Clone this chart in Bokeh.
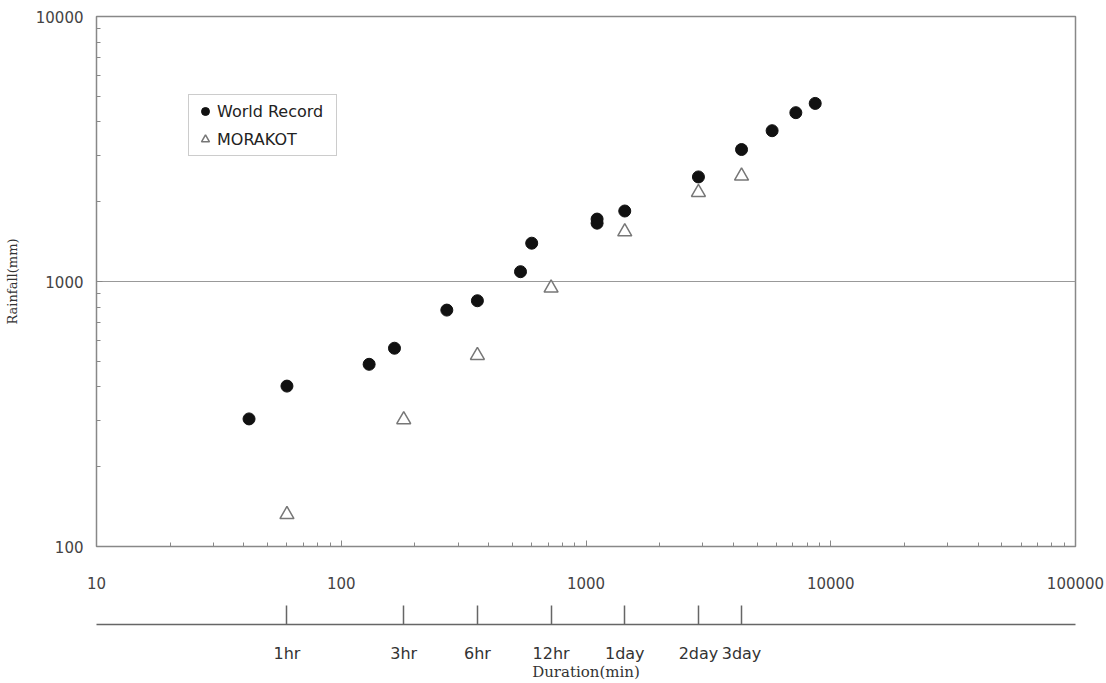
from bokeh.plotting import figure
from bokeh.models import LogAxis, FixedTicker, Legend, LegendItem, ColumnDataSource
from bokeh.embed import file_html
from bokeh.resources import INLINE

# ---- data ----
wr_duration = [42, 60, 130, 165, 270, 360, 540, 600, 1110, 1110, 1440, 2880, 4320, 5760, 7200, 8640]
wr_rainfall = [303, 403, 487, 560, 780, 846, 1089, 1395, 1660, 1720, 1845, 2481, 3148, 3707, 4336, 4699]

morakot_duration = [60, 180, 360, 720, 1440, 2880, 4320]
morakot_rainfall = [132, 301, 526, 945, 1540, 2170, 2500]

x_major = [10, 100, 1000, 10000, 100000]
y_major = [100, 1000, 10000]
x_minor = [m * d for d in [10, 100, 1000, 10000] for m in range(2, 10)]
y_minor = [m * d for d in [100, 1000] for m in range(2, 10)]

dur_ticks = [60, 180, 360, 720, 1440, 2880, 4320]
dur_labels = ["1hr", "3hr", "6hr", "12hr", "1day", "2day", "3day"]

GRAY = "#888888"
TXT = "#444444"

p = figure(width=1106, height=683, x_axis_type="log", y_axis_type="log",
           x_range=(10, 100000), y_range=(100, 10000),
           output_backend="svg", toolbar_location=None,
           min_border_left=96, min_border_right=31, min_border_top=16, min_border_bottom=137,
           background_fill_color="white", border_fill_color="white")

p.outline_line_color = GRAY
p.outline_line_width = 1.5
p.xgrid.visible = False
p.ygrid.grid_line_color = "#999999"
p.ygrid.grid_line_width = 1

# main x axis
xa = p.xaxis[0]
xa.ticker = FixedTicker(ticks=x_major, minor_ticks=x_minor)
xa.major_label_overrides = {v: str(v) for v in x_major}
xa.axis_line_color = GRAY
xa.major_tick_line_color = GRAY
xa.minor_tick_line_color = GRAY
xa.major_tick_in = 6
xa.major_tick_out = 0
xa.minor_tick_in = 4
xa.minor_tick_out = 0
xa.major_label_standoff = 30
xa.major_label_text_font = "DejaVu Sans"
xa.major_label_text_font_size = "15px"
xa.major_label_text_color = TXT
xa.axis_label = " "
xa.axis_label_text_font_size = "20px"
xa.axis_label_standoff = 8

# y axis
ya = p.yaxis[0]
ya.ticker = FixedTicker(ticks=y_major, minor_ticks=y_minor)
ya.major_label_overrides = {v: str(v) for v in y_major}
ya.axis_line_color = GRAY
ya.major_tick_line_color = GRAY
ya.minor_tick_line_color = GRAY
ya.major_tick_in = 6
ya.major_tick_out = 0
ya.minor_tick_in = 4
ya.minor_tick_out = 0
ya.major_label_standoff = 13
ya.major_label_text_font = "DejaVu Sans"
ya.major_label_text_font_size = "15px"
ya.major_label_text_color = TXT
ya.axis_label = "Rainfall(mm)"
ya.axis_label_text_font = "DejaVu Serif"
ya.axis_label_text_font_size = "13px"
ya.axis_label_text_font_style = "normal"
ya.axis_label_text_color = "#333333"
ya.axis_label_standoff = 13

# duration axis
da = LogAxis(ticker=FixedTicker(ticks=dur_ticks, minor_ticks=[]),
             major_label_overrides=dict(zip(dur_ticks, dur_labels)))
da.axis_line_color = "#666666"
da.axis_line_width = 1.5
da.major_tick_line_color = "#666666"
da.major_tick_line_width = 1.5
da.major_tick_in = 19
da.major_tick_out = 0
da.minor_tick_in = 0
da.minor_tick_out = 0
da.major_label_standoff = 19
da.major_label_text_font = "DejaVu Sans"
da.major_label_text_font_size = "16px"
da.major_label_text_color = "#333333"
da.axis_label = "Duration(min)"
da.axis_label_text_font = "DejaVu Serif"
da.axis_label_text_font_size = "15px"
da.axis_label_text_font_style = "normal"
da.axis_label_text_color = "#333333"
da.axis_label_standoff = -3
p.add_layout(da, "below")

wr_src = ColumnDataSource(dict(x=wr_duration, y=wr_rainfall))
mk_src = ColumnDataSource(dict(x=morakot_duration, y=morakot_rainfall))

r1 = p.scatter("x", "y", source=wr_src, marker="circle", size=12,
               fill_color="#111111", line_color="#111111")
r2 = p.scatter("x", "y", source=mk_src, marker="triangle", size=14,
               fill_color="white", line_color="#777777", line_width=1.5)

legend = Legend(items=[LegendItem(label="World Record", renderers=[r1]),
                       LegendItem(label="MORAKOT", renderers=[r2])],
                location=(92, 390))
legend.border_line_color = "#999999"
legend.border_line_width = 1.5
legend.background_fill_color = "white"
legend.background_fill_alpha = 1
legend.padding = 6
legend.spacing = 8
legend.margin = 0
legend.glyph_height = 20
legend.glyph_width = 20
legend.label_height = 20
legend.label_width = 113
legend.label_standoff = 2
legend.label_text_font = "DejaVu Sans"
legend.label_text_font_size = "16px"
legend.label_text_color = "#222222"
p.add_layout(legend)

open("out.html", "w").write(file_html(p, INLINE))
